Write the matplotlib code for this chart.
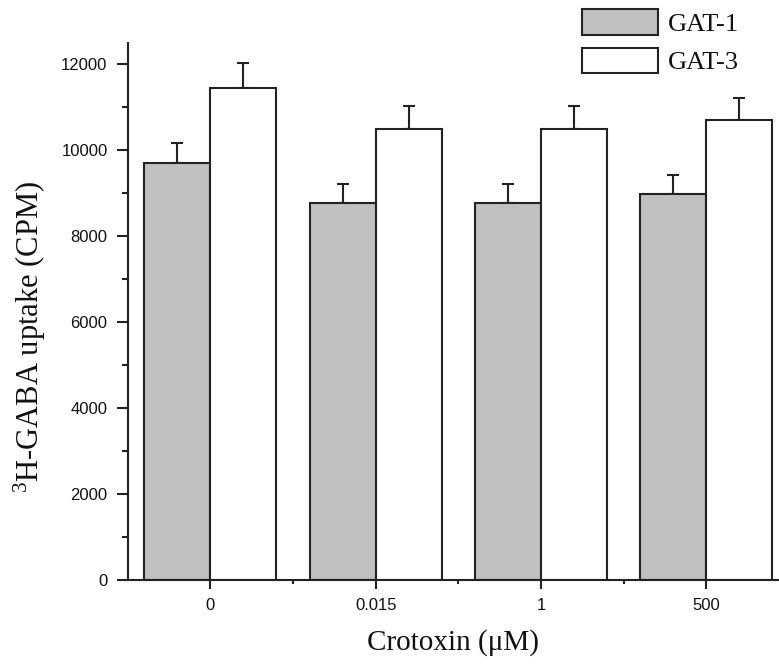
import matplotlib
matplotlib.use("Agg")
import matplotlib.pyplot as plt
import numpy as np
from matplotlib.ticker import MultipleLocator, FixedLocator

plt.rcParams["mathtext.fontset"] = "custom"
plt.rcParams["mathtext.rm"] = "Liberation Serif"
plt.rcParams["mathtext.it"] = "Liberation Serif:italic"
plt.rcParams["mathtext.bf"] = "Liberation Serif:bold"

categories = ["0", "0.015", "1", "500"]
gat1 = [9700, 8780, 8780, 8990]
gat1_err = [470, 440, 440, 430]
gat3 = [11460, 10500, 10500, 10700]
gat3_err = [575, 530, 530, 520]

W, H = 779, 666
fig = plt.figure(figsize=(W / 100, H / 100), dpi=100)
ax = fig.add_axes([127.7 / W, 1 - 580 / H, (789 - 127.7) / W, (580 - 43) / H])

x = np.arange(len(categories))
bw = 0.4
ec = "#222222"
lw = 1.5
ax.bar(x - bw / 2, gat1, width=bw, color="#c0c0c0", edgecolor=ec, linewidth=lw, label="GAT-1", zorder=2)
ax.bar(x + bw / 2, gat3, width=bw, color="white", edgecolor=ec, linewidth=lw, label="GAT-3", zorder=2)
ax.errorbar(x - bw / 2, gat1, yerr=[np.zeros(len(x)), gat1_err], fmt="none", ecolor=ec,
            elinewidth=lw, capsize=4, capthick=lw, zorder=1)
ax.errorbar(x + bw / 2, gat3, yerr=[np.zeros(len(x)), gat3_err], fmt="none", ecolor=ec,
            elinewidth=lw, capsize=4, capthick=lw, zorder=1)

ax.set_xlim(-0.5, 3.5)
ax.set_ylim(0, 12500)
ax.set_xticks(x)
ax.set_xticklabels(categories)
ax.xaxis.set_minor_locator(FixedLocator([0.5, 1.5, 2.5]))
ax.yaxis.set_major_locator(MultipleLocator(2000))
ax.yaxis.set_minor_locator(MultipleLocator(1000))

for s in ["top", "right"]:
    ax.spines[s].set_visible(False)
for s in ["left", "bottom"]:
    ax.spines[s].set_linewidth(lw)
    ax.spines[s].set_color(ec)

ax.tick_params(axis="y", which="major", length=8, width=lw, color=ec, pad=6.5)
ax.tick_params(axis="y", which="minor", length=4.5, width=lw, color=ec)
ax.tick_params(axis="x", which="major", length=6.5, width=lw, color=ec, pad=6.5)
ax.tick_params(axis="x", which="minor", length=3, width=lw, color=ec)
for lab in ax.get_xticklabels() + ax.get_yticklabels():
    lab.set_fontfamily("Liberation Sans")
    lab.set_fontsize(12)
    lab.set_color("#111111")

ax.set_xlabel("Crotoxin (\u03bcM)", fontfamily="Liberation Serif", fontsize=21, color="#111111")
ax.xaxis.set_label_coords(453 / W, 1 - 643 / H, transform=fig.transFigure)
ax.xaxis.label.set_verticalalignment("center")
ax.set_ylabel(r"$\mathregular{^{3}}$H-GABA uptake (CPM)", fontfamily="Liberation Serif",
              fontsize=22, color="#111111")
ax.yaxis.set_label_coords(30 / W, 1 - 337 / H, transform=fig.transFigure)
ax.yaxis.label.set_verticalalignment("center")

leg = ax.legend(loc="upper left", bbox_to_anchor=(582 / W, 1 - 9 / H), bbox_transform=fig.transFigure,
                frameon=False, borderpad=0, borderaxespad=0, handlelength=2.88, handleheight=1.12,
                handletextpad=0.38, labelspacing=0.45,
                prop={"family": "Liberation Serif", "size": 19})
for t in leg.get_texts():
    t.set_color("#111111")

fig.savefig("out.png", dpi=100)
